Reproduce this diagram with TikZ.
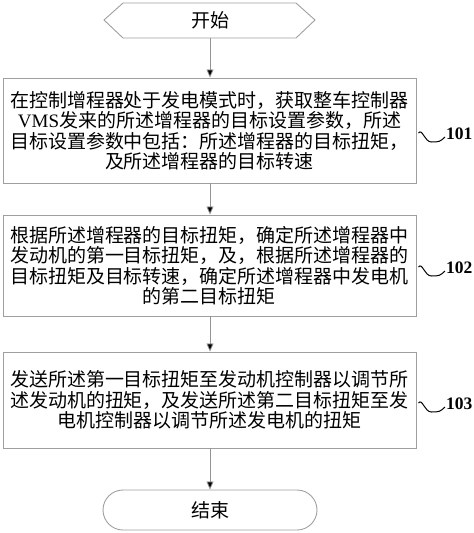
\documentclass[tikz,border=0pt]{standalone}
\usepackage{fontspec}
\setmainfont{Liberation Serif}
\newfontfamily\cjk{Noto Sans CJK SC}
\usetikzlibrary{arrows.meta,shapes.misc}
\begin{document}
\begin{tikzpicture}[x=1pt,y=-1pt,
  box/.style={draw=gray!75, line width=0.9pt, minimum width=413pt, text width=407pt,
    align=center, inner sep=0pt, font=\cjk\fontsize{19}{20.5}\selectfont},
  term/.style={inner sep=0pt, font=\cjk\fontsize{19}{20.5}\selectfont},
  arr/.style={draw=gray!85, line width=0.8pt, -{Triangle[width=7pt,length=8pt,fill=black]}},
  lbl/.style={font=\bfseries\fontsize{17.5}{20}\selectfont, inner sep=0pt},
  wave/.style={draw=black, line width=1pt}]
\useasboundingbox (0,0) rectangle (474,533);
% start
\draw[gray!75, line width=0.9pt] (104,20) -- (123,3) -- (296,3) -- (315,20) -- (296,38) -- (123,38) -- cycle;
\node[term, minimum width=211pt, minimum height=35pt] (start) at (210,20.5) {开始};
% boxes
\node[box, minimum height=105pt] (b1) at (209.5,130.5) {在控制增程器处于发电模式时，获取整车控制器\\{\rmfamily VMS}发来的所述增程器的目标设置参数，所述\\目标设置参数中包括：所述增程器的目标扭矩，\\及所述增程器的目标转速};
\node[box, minimum height=101pt] (b2) at (209.5,265.5) {根据所述增程器的目标扭矩，确定所述增程器中\\发动机的第一目标扭矩，及，根据所述增程器的\\目标扭矩及目标转速，确定所述增程器中发电机\\的第二目标扭矩};
\node[box, minimum height=96pt] (b3) at (209.5,400) {发送所述第一目标扭矩至发动机控制器以调节所\\述发动机的扭矩，及发送所述第二目标扭矩至发\\电机控制器以调节所述发电机的扭矩};
% end
\node[term, draw=gray!75, line width=0.9pt, rounded rectangle, minimum width=214pt, minimum height=40pt] (end) at (210,510) {结束};
% arrows
\draw[arr] (start.south) -- (b1.north -| start.south);
\draw[arr] (b1.south -| start.south) -- (b2.north -| start.south);
\draw[arr] (b2.south -| start.south) -- (b3.north -| start.south);
\draw[arr] (b3.south -| start.south) -- (end.north);
% labels
\node[lbl, anchor=west] (l1) at (446,134) {101};
\node[lbl, anchor=west] (l2) at (446,268) {102};
\node[lbl, anchor=west] (l3) at (446,404) {103};
\foreach \b/\l in {b1/l1,b2/l2,b3/l3}{
  \draw[wave] (\l.west -| \b.east) ++(2,-1) .. controls ++(4,-5) and ++(-7,0) .. ++(13,9) .. controls ++(7,0) and ++(-5,5) .. ([xshift=-1pt,yshift=-3pt]\l.west);
}
\end{tikzpicture}
\end{document}
